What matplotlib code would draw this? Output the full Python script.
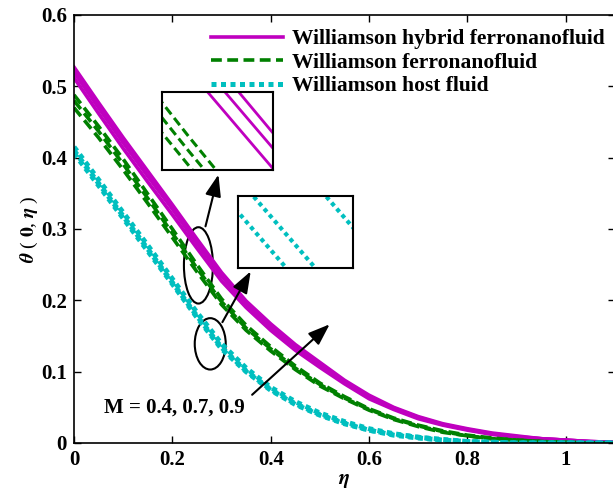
import matplotlib
matplotlib.use("Agg")
import matplotlib.pyplot as plt
from matplotlib.patches import Ellipse

plt.rcParams['font.family'] = ['Liberation Serif', 'DejaVu Serif']
plt.rcParams['font.weight'] = 'bold'
plt.rcParams['mathtext.fontset'] = 'stix'

eta = [0.00, 0.05, 0.10, 0.15, 0.20, 0.25, 0.30, 0.35, 0.40, 0.45, 0.50, 0.55,
       0.60, 0.65, 0.70, 0.75, 0.80, 0.85, 0.90, 0.95, 1.00, 1.05, 1.10]

# Williamson hybrid ferronanofluid, M = 0.4, 0.7, 0.9
hyb_m04 = [0.512, 0.462, 0.413, 0.366, 0.320, 0.273, 0.227, 0.190, 0.158, 0.130, 0.106, 0.083,
           0.062, 0.047, 0.034, 0.025, 0.018, 0.012, 0.008, 0.006, 0.004, 0.002, 0.001]
hyb_m07 = [0.520, 0.470, 0.421, 0.374, 0.328, 0.280, 0.234, 0.195, 0.163, 0.135, 0.110, 0.086,
           0.065, 0.049, 0.036, 0.026, 0.019, 0.013, 0.009, 0.006, 0.004, 0.002, 0.001]
hyb_m09 = [0.527, 0.477, 0.428, 0.381, 0.334, 0.286, 0.239, 0.199, 0.167, 0.138, 0.113, 0.088,
           0.067, 0.050, 0.037, 0.027, 0.020, 0.014, 0.010, 0.006, 0.004, 0.002, 0.001]

# Williamson ferronanofluid
fer_m04 = [0.470, 0.428, 0.383, 0.336, 0.288, 0.240, 0.194, 0.158, 0.129, 0.103, 0.080, 0.062,
           0.046, 0.033, 0.023, 0.015, 0.010, 0.006, 0.004, 0.002, 0.001, 0.000, 0.000]
fer_m07 = [0.480, 0.437, 0.391, 0.343, 0.294, 0.245, 0.198, 0.161, 0.132, 0.105, 0.082, 0.063,
           0.047, 0.034, 0.024, 0.016, 0.010, 0.006, 0.004, 0.002, 0.001, 0.000, 0.000]
fer_m09 = [0.488, 0.444, 0.398, 0.349, 0.300, 0.250, 0.202, 0.165, 0.135, 0.108, 0.084, 0.065,
           0.048, 0.035, 0.025, 0.017, 0.011, 0.007, 0.004, 0.002, 0.001, 0.000, 0.000]

# Williamson host fluid
host_m04 = [0.406, 0.361, 0.315, 0.269, 0.223, 0.176, 0.132, 0.100, 0.074, 0.054, 0.039, 0.027,
            0.018, 0.011, 0.007, 0.004, 0.002, 0.001, 0.000, 0.000, 0.000, 0.000, 0.000]
host_m07 = [0.410, 0.364, 0.318, 0.272, 0.225, 0.178, 0.134, 0.101, 0.075, 0.055, 0.040, 0.028,
            0.018, 0.012, 0.008, 0.004, 0.002, 0.001, 0.000, 0.000, 0.000, 0.000, 0.000]
host_m09 = [0.415, 0.369, 0.323, 0.277, 0.230, 0.183, 0.139, 0.105, 0.078, 0.058, 0.042, 0.030,
            0.020, 0.013, 0.008, 0.005, 0.002, 0.001, 0.000, 0.000, 0.000, 0.000, 0.000]

labels = ['Williamson hybrid ferronanofluid', 'Williamson ferronanofluid', 'Williamson host fluid']
xticks = [0, 0.2, 0.4, 0.6, 0.8, 1]
xticklabels = ['0', '0.2', '0.4', '0.6', '0.8', '1']
yticks = [0, 0.1, 0.2, 0.3, 0.4, 0.5, 0.6]
yticklabels = ['0', '0.1', '0.2', '0.3', '0.4', '0.5', '0.6']

magenta = '#BF00BF'
green = '#008000'
cyan = '#00BFBF'
dash = (0, (3, 1.5))
dots = (0, (1, 0.9))


def draw_curves(ax, lw_s, lw_d, lw_o, with_labels):
    for i, y in enumerate([hyb_m04, hyb_m07, hyb_m09]):
        ax.plot(eta, y, color=magenta, lw=lw_s, ls='-',
                label=labels[0] if (with_labels and i == 0) else None)
    for i, y in enumerate([fer_m04, fer_m07, fer_m09]):
        ax.plot(eta, y, color=green, lw=lw_d, ls=dash,
                label=labels[1] if (with_labels and i == 0) else None)
    for i, y in enumerate([host_m04, host_m07, host_m09]):
        ax.plot(eta, y, color=cyan, lw=lw_o, ls=dots,
                label=labels[2] if (with_labels and i == 0) else None)


fig = plt.figure(figsize=(6.13, 4.91), dpi=100)
ax = fig.add_axes([74 / 613, 48 / 491, 541 / 613, 428 / 491])
draw_curves(ax, 2.6, 2.6, 3.6, True)

ax.set_xlim(0, 1.1)
ax.set_ylim(0, 0.6)
ax.set_xticks(xticks)
ax.set_xticklabels(xticklabels)
ax.set_yticks(yticks)
ax.set_yticklabels(yticklabels)
ax.tick_params(direction='in', top=True, right=True, length=5, width=1, labelsize=15, pad=5)
for s in ax.spines.values():
    s.set_linewidth(1.2)

ax.set_xlabel(r'$\eta$', fontsize=15, labelpad=1)
ax.set_ylabel(r'$\theta$ ( $0$, $\eta$ )', fontsize=14, labelpad=1)

leg = ax.legend(loc='upper left', bbox_to_anchor=(211 / 613, 1 - 29 / 491),
                bbox_transform=fig.transFigure, frameon=False, fontsize=15.5,
                handlelength=3.35, handletextpad=0.4, labelspacing=0.16,
                borderpad=0, borderaxespad=0)

# ellipses around curve groups
ax.add_patch(Ellipse((0.253, 0.249), 0.059, 0.107, fill=False, lw=1.5, color='black'))
ax.add_patch(Ellipse((0.277, 0.139), 0.063, 0.072, fill=False, lw=1.5, color='black'))

arrow = dict(arrowstyle='-|>,head_length=0.6,head_width=0.22', color='black', lw=1.5,
             mutation_scale=22)
ax.annotate('', xy=(0.295, 0.38), xytext=(0.266, 0.30), arrowprops=arrow)
ax.annotate('', xy=(0.362, 0.244), xytext=(0.299, 0.166), arrowprops=arrow)
ax.annotate('', xy=(0.524, 0.169), xytext=(0.358, 0.065), arrowprops=arrow)
ax.text(0.06, 0.049, 'M = 0.4, 0.7, 0.9', fontsize=15, va='center', ha='left')

# zoomed views
ins1 = fig.add_axes([161.7 / 613, (491 - 170) / 491, 111.6 / 613, 78.3 / 491])
draw_curves(ins1, 2.0, 2.2, 3.0, False)
ins1.set_xlim(0.238, 0.287)
ins1.set_ylim(0.2386, 0.2656)

ins2 = fig.add_axes([238.3 / 613, (491 - 268.3) / 491, 115 / 613, 72.3 / 491])
draw_curves(ins2, 2.0, 2.2, 3.0, False)
ins2.set_xlim(0.2752, 0.2842)
ins2.set_ylim(0.1505, 0.1548)

for a in (ins1, ins2):
    a.set_xticks([])
    a.set_yticks([])
    for s in a.spines.values():
        s.set_linewidth(1.5)

fig.savefig('out.png', dpi=100)
